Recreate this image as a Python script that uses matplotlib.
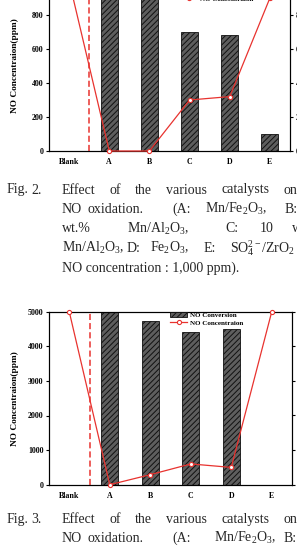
import matplotlib
matplotlib.use('Agg')
import matplotlib.pyplot as plt

plt.rcParams['font.family'] = ['Liberation Serif', 'DejaVu Serif']
plt.rcParams['mathtext.fontset'] = 'custom'
plt.rcParams['mathtext.rm'] = 'Liberation Serif'
plt.rcParams['mathtext.it'] = 'Liberation Serif:italic'
plt.rcParams['mathtext.bf'] = 'Liberation Serif:bold'
plt.rcParams['hatch.linewidth'] = 0.7

W, H = 297, 557
RED = '#e8332f'
TXT = '#262626'

catalysts = ['Blank', 'A', 'B', 'C', 'D', 'E']
# Fig. 2 : inlet NO 1,000 ppm
conv_fig2 = [0, 100, 100, 70, 68, 10]        # NO conversion (%)
conc_fig2 = [1000, 0, 0, 300, 320, 900]      # NO concentration (ppm)
# Fig. 3 : inlet NO 5,000 ppm
conv_fig3 = [0, 100, 94.4, 88.4, 90.2, 0]
conc_fig3 = [5000, 0, 290, 600, 500, 5000]

fig = plt.figure(figsize=(W / 100, H / 100), dpi=100)


def px_rect(left, top, right, bottom):
    # pixel box -> figure fraction
    return [left / W, 1 - bottom / H, (right - left) / W, (bottom - top) / H]


def draw_panel(rect, conv, conc, ymax, ystep, leg_xy):
    ax = fig.add_axes(rect)
    ax2 = ax.twinx()
    ax.set_zorder(ax2.get_zorder() + 1)
    ax.patch.set_visible(False)
    x = list(range(len(catalysts)))

    ax2.bar(x, conv, width=0.42, color='#5e5e5e', edgecolor='#111111',
            hatch='//////', linewidth=0.6, label='NO Conversion')
    ax.plot(x, conc, color=RED, lw=0.9, marker='o', ms=3, mfc='white',
            mec=RED, mew=0.8, clip_on=False, zorder=5, label='NO Concentraion')
    ax.axvline(0.5, color=RED, ls=(0, (4, 2)), lw=1.1)

    ax.set_xlim(-0.5, 5.5)
    ax.set_ylim(0, ymax)
    ax2.set_ylim(0, 100)
    ax.set_xticks(x, catalysts)
    ax.set_yticks(range(0, ymax + 1, ystep))
    ax2.set_yticks(range(0, 101, 20))

    ax.tick_params(axis='x', length=0, pad=5, labelsize=5.7)
    ax.tick_params(axis='y', direction='out', length=2.5, width=0.8,
                   pad=1.5, labelsize=5.7)
    ax2.tick_params(axis='y', direction='out', length=2.5, width=0.8,
                    pad=1.5, labelsize=5.7)
    for lab in ax.get_xticklabels() + ax.get_yticklabels() + ax2.get_yticklabels():
        lab.set_fontweight('bold')
    for a in (ax, ax2):
        for s in a.spines.values():
            s.set_linewidth(0.8)

    ax.set_ylabel('NO Concentraion(ppm)', fontsize=6.7, fontweight='bold')
    ax.yaxis.set_label_coords(-0.125, 0.5)

    h1, l1 = ax2.get_legend_handles_labels()
    h2, l2 = ax.get_legend_handles_labels()
    ax.legend(h1 + h2, l1 + l2, loc='upper left', bbox_to_anchor=leg_xy,
              frameon=False, borderpad=0, borderaxespad=0, handlelength=2.5,
              handletextpad=0.4, labelspacing=0.3,
              prop={'size': 5, 'weight': 'bold'})
    return ax


draw_panel(px_rect(49, -19, 290, 151), conv_fig2, conc_fig2, 1000, 200, (0.544, 0.96))
draw_panel(px_rect(49, 311.7, 292, 484.7), conv_fig3, conc_fig3, 5000, 1000, (0.498, 1.0))


def word(s, x, y):
    return fig.text(x / W, 1 - y / H, s, va='baseline', ha='left', fontsize=10,
                    fontweight='normal', color=TXT)


def put(words, y):
    for s, x in words:
        word(s, x, y)


renderer = fig.canvas.get_renderer()


def justify(words, y, x0, x1):
    # spread the words evenly between x0 and x1, like the printed page
    texts = [word(s, x0, y) for s in words]
    widths = [t.get_window_extent(renderer).width for t in texts]
    gap = (x1 - x0 - sum(widths)) / (len(words) - 1)
    x = x0
    for t, w in zip(texts, widths):
        t.set_x(x / W)
        x += w + gap


# captions
put([('Fig.', 7), ('2.', 31)], 193.5)
justify(['Effect', 'of', 'the', 'various', 'catalysts', 'on'], 193.5, 62, 297)
put([('NO', 62), ('oxidation.', 88), ('(A:', 172),
     ('Mn/Fe$_2$O$_3$,', 205), ('B:', 285)], 213)
put([('wt.%', 62), ('Mn/Al$_2$O$_3$,', 127), ('C:', 225), ('10', 260),
     ('wt.%', 292)], 232.5)
put([('Mn/Al$_2$O$_3$,', 62), ('D:', 127), ('Fe$_2$O$_3$,', 150), ('E:', 204),
     ('SO$_4^{2-}$/ZrO$_2$', 230)], 252)
put([('NO concentration : 1,000 ppm).', 62)], 272)

put([('Fig.', 7), ('3.', 31)], 523)
justify(['Effect', 'of', 'the', 'various', 'catalysts', 'on'], 523, 62, 297)
put([('NO', 62), ('oxidation.', 88), ('(A:', 172),
     ('Mn/Fe$_2$O$_3$,', 214), ('B:', 284)], 542)

fig.savefig('out.png', dpi=100)
